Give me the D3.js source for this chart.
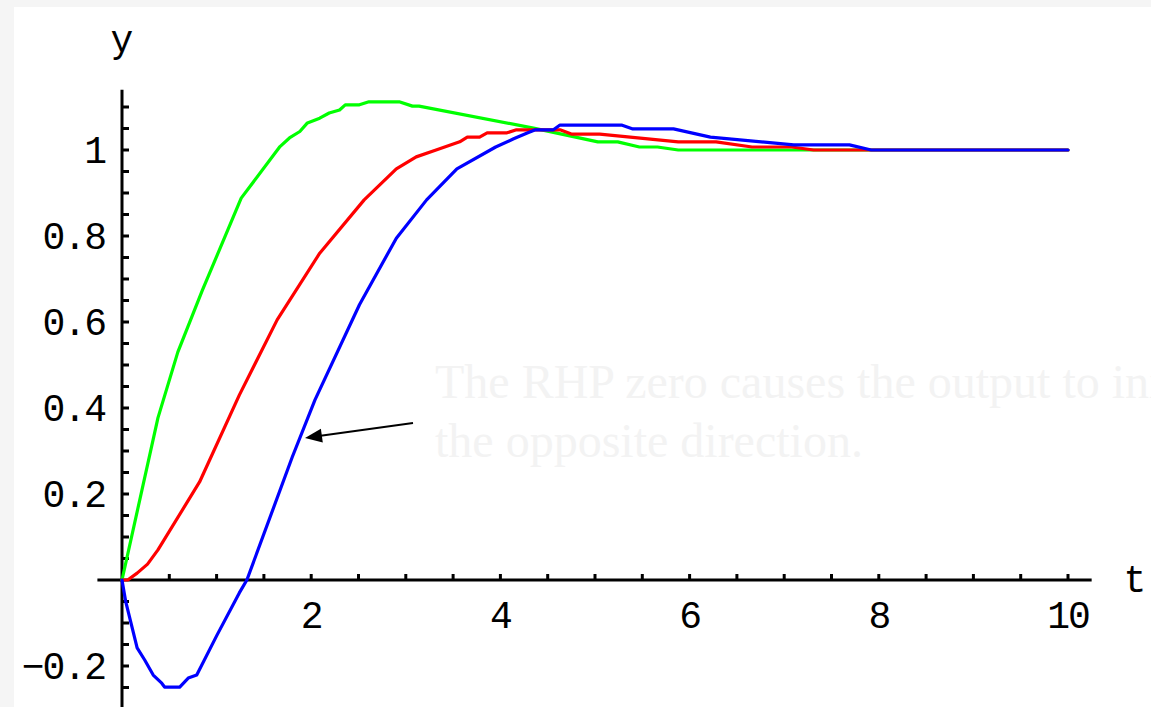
<!DOCTYPE html>
<html>
<head>
<meta charset="utf-8">
<script src="https://cdn.jsdelivr.net/npm/d3@7"></script>
<style>
html,body{margin:0;padding:0;background:#f5f5f5;}
svg{display:block;}
</style>
</head>
<body>
<svg id="chart" width="1151" height="707"></svg>
<script>
// ---- data ----
const greenT = [0,0.38,0.59,0.85,1.26,1.67,1.77,1.88,1.96,2.09,2.19,2.30,2.36,2.51,2.61,2.93,3.07,3.14,4.35,5.03,5.24,5.47,5.66,5.88,10];
const greenV = [0,0.377,0.53,0.674,0.888,1.008,1.028,1.043,1.063,1.074,1.086,1.093,1.105,1.105,1.112,1.112,1.102,1.102,1.051,1.019,1.019,1.007,1.007,1.0,1.0];

const redT = [0,0.06,0.16,0.27,0.38,0.82,1.24,1.64,2.09,2.56,2.90,3.11,3.32,3.57,3.65,3.78,3.86,4.07,4.17,4.63,4.75,5.05,5.88,6.28,6.66,7.08,7.31,10];
const redV = [0,0,0.016,0.037,0.07,0.228,0.43,0.605,0.76,0.884,0.956,0.984,1.0,1.019,1.030,1.030,1.040,1.040,1.047,1.047,1.037,1.037,1.019,1.019,1.007,1.007,1.0,1.0];

const blueT = [0,0.04,0.16,0.24,0.33,0.42,0.45,0.61,0.70,0.79,1.00,1.24,1.32,1.80,2.04,2.51,2.90,3.22,3.54,3.95,4.14,4.29,4.37,4.56,4.63,5.28,5.40,5.83,6.22,7.10,7.69,7.92,10];
const blueV = [0,-0.051,-0.158,-0.186,-0.221,-0.240,-0.249,-0.249,-0.228,-0.221,-0.130,-0.030,0,0.286,0.419,0.640,0.795,0.884,0.956,1.007,1.026,1.040,1.047,1.047,1.058,1.058,1.049,1.049,1.030,1.012,1.012,1.0,1.0];

const xTickLabels = [2,4,6,8,10];
const yTickLabels = [-0.2,0.2,0.4,0.6,0.8,1];
const xMinorTicks = d3.range(0.5, 10.01, 0.5);
const yMinorTicks = d3.range(-0.3, 1.141, 0.05).map(v => +v.toFixed(2)).filter(v => Math.abs(v) > 1e-9);
const annotation = ["The RHP zero causes the output to initially move in", "the opposite direction."];

// ---- scales ----
const x = d3.scaleLinear().domain([0, 10]).range([122, 1068]);
const y = d3.scaleLinear().domain([0, 1]).range([580, 150]);

const svg = d3.select("#chart");
svg.append("rect").attr("x",14).attr("y",7).attr("width",1151-14).attr("height",707-7).attr("fill","#ffffff");

const mono = "'Liberation Mono', 'Courier New', monospace";

// annotation (faint)
const ann = svg.append("text").attr("x",435).attr("y",398)
  .attr("font-family","'Liberation Serif', 'Times New Roman', serif")
  .attr("font-size",48).attr("fill","#f3f3f3");
annotation.forEach((s,i)=>{
  ann.append("tspan").attr("x",435).attr("dy", i===0?0:59).text(s);
});

// axes lines
svg.append("line").attr("x1",x(-0.26)).attr("x2",x(10.25)).attr("y1",y(0)).attr("y2",y(0))
  .attr("stroke","#000").attr("stroke-width",3);
svg.append("line").attr("x1",x(0)).attr("x2",x(0)).attr("y1",y(1.14)).attr("y2",720)
  .attr("stroke","#000").attr("stroke-width",3);

// x ticks (above axis)
svg.append("g").selectAll("line").data(xMinorTicks).join("line")
  .attr("x1",d=>x(d)).attr("x2",d=>x(d)).attr("y1",y(0)).attr("y2",y(0)-6)
  .attr("stroke","#000").attr("stroke-width",3);
// y ticks (right of axis)
svg.append("g").selectAll("line").data(yMinorTicks).join("line")
  .attr("x1",x(0)).attr("x2",x(0)+7).attr("y1",d=>y(d)).attr("y2",d=>y(d))
  .attr("stroke","#000").attr("stroke-width",3);

// tick labels
svg.append("g").selectAll("text").data(xTickLabels).join("text")
  .attr("x",d=>x(d)).attr("y",y(0)+48).attr("text-anchor","middle")
  .attr("font-family",mono).attr("font-size",38).attr("letter-spacing",-2).attr("fill","#000")
  .text(d=>String(d));
svg.append("g").selectAll("text").data(yTickLabels).join("text")
  .attr("x",105).attr("y",d=>y(d)+13).attr("text-anchor","end")
  .attr("font-family",mono).attr("font-size",38).attr("letter-spacing",-2).attr("fill","#000")
  .text(d=>String(d).replace("-","\u2212"));

// axis names
svg.append("text").attr("x",122).attr("y",52).attr("text-anchor","middle")
  .attr("font-family","'Courier New', 'Liberation Mono', monospace").attr("font-size",38).text("y");
svg.append("text").attr("x",1135).attr("y",592).attr("text-anchor","middle")
  .attr("font-family",mono).attr("font-size",38).text("t");

// curves
const line = d3.line().x(d=>x(d[0])).y(d=>y(d[1]));
const series = [
  {t: greenT, v: greenV, c: "#00ff00"},
  {t: redT, v: redV, c: "#ff0000"},
  {t: blueT, v: blueV, c: "#0000ff"}
];
series.forEach(s=>{
  svg.append("path").datum(d3.zip(s.t, s.v)).attr("d", line)
    .attr("fill","none").attr("stroke", s.c).attr("stroke-width",3.2)
    .attr("stroke-linejoin","round").attr("stroke-linecap","round");
});

// arrow
const ax1 = 413, ay1 = 423, ax2 = 305, ay2 = 438;
svg.append("line").attr("x1",ax1).attr("y1",ay1).attr("x2",ax2+12).attr("y2",ay2-1.7)
  .attr("stroke","#000").attr("stroke-width",2);
const ang = Math.atan2(ay2-ay1, ax2-ax1);
const L = 17, W = 7;
const bx = ax2 - L*Math.cos(ang), by = ay2 - L*Math.sin(ang);
const px = -Math.sin(ang)*W, py = Math.cos(ang)*W;
svg.append("path").attr("d", `M${ax2},${ay2}L${bx+px},${by+py}L${bx-px},${by-py}Z`).attr("fill","#000");
</script>
</body>
</html>
